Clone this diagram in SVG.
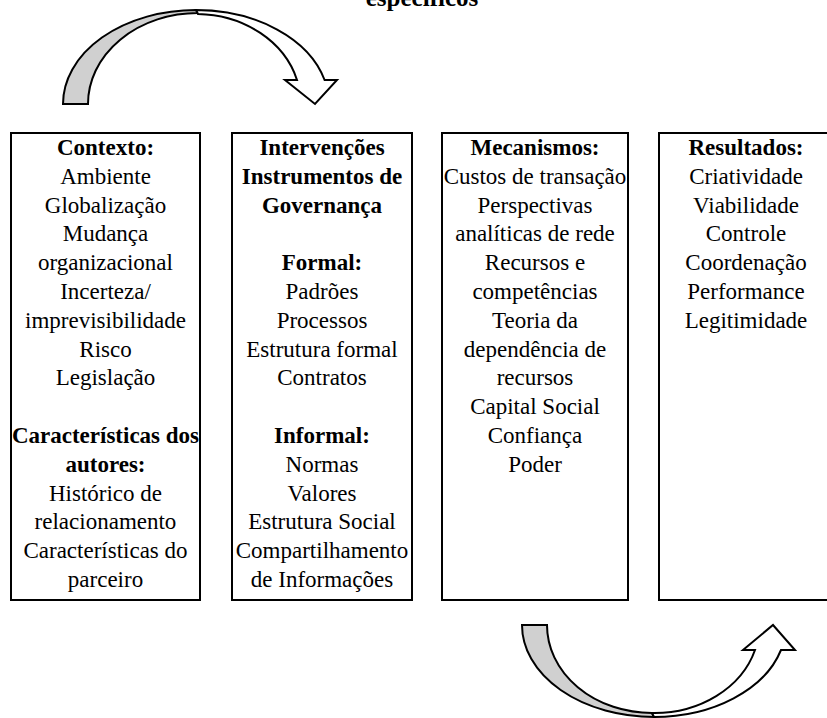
<svg xmlns="http://www.w3.org/2000/svg" width="827" height="718" viewBox="0 0 827 718">
<style>
.box{fill:#fff;stroke:#000;stroke-width:2}
text{font-family:"Liberation Serif","Times New Roman",serif;font-size:23px;fill:#000;text-anchor:middle}
.b{font-weight:bold}
.title{font-size:25px;font-weight:bold}
.gray{fill:#d0d0d0;stroke:#000;stroke-width:2;stroke-linejoin:miter}
.white{fill:#fff;stroke:#000;stroke-width:2;stroke-linejoin:miter}
</style>
<rect width="827" height="718" fill="#fff"/>
<text class="title" x="422" y="6">específicos</text>
<g id="connectors">
  <g id="arrow-top">
    <path class="gray" d="M63,104 A133,94 0 0 1 196,10 L198,13 A110,91 0 0 0 88,104 Z"/>
    <path class="white" d="M196,10 A133,94 0 0 1 324.6,80 L337,80 L315,104 L285,80 L297,80 A105,90 0 0 0 198,14 Z"/>
  </g>
  <g id="arrow-bottom">
    <path class="gray" d="M522,625 A132,92 0 0 0 654,717 L652,713 A105,88 0 0 1 547,625 Z"/>
    <path class="white" d="M654,717 A132,92 0 0 0 781,650 L795,650 L773,625 L743,650 L755,650 A105,88 0 0 1 652,713 Z"/>
  </g>
</g>
<g id="contexto">
  <rect class="box" x="11" y="133" width="189" height="467"/>
  <text x="105.5" y="155" class="b">Contexto:</text>
  <text x="105.5" y="183.8">Ambiente</text>
  <text x="105.5" y="212.6">Globalização</text>
  <text x="105.5" y="241.4">Mudança</text>
  <text x="105.5" y="270.2">organizacional</text>
  <text x="105.5" y="299">Incerteza/</text>
  <text x="105.5" y="327.8">imprevisibilidade</text>
  <text x="105.5" y="356.6">Risco</text>
  <text x="105.5" y="385.4">Legislação</text>
  <text x="105.5" y="443" class="b">Características dos</text>
  <text x="105.5" y="471.8" class="b">autores:</text>
  <text x="105.5" y="500.6">Histórico de</text>
  <text x="105.5" y="529.4">relacionamento</text>
  <text x="105.5" y="558.2">Características do</text>
  <text x="105.5" y="587">parceiro</text>
</g>
<g id="intervencoes">
  <rect class="box" x="232" y="133" width="180" height="467"/>
  <text x="322" y="155" class="b">Intervenções</text>
  <text x="322" y="183.8" class="b">Instrumentos de</text>
  <text x="322" y="212.6" class="b">Governança</text>
  <text x="322" y="270.2" class="b">Formal:</text>
  <text x="322" y="299">Padrões</text>
  <text x="322" y="327.8">Processos</text>
  <text x="322" y="356.6">Estrutura formal</text>
  <text x="322" y="385.4">Contratos</text>
  <text x="322" y="443" class="b">Informal:</text>
  <text x="322" y="471.8">Normas</text>
  <text x="322" y="500.6">Valores</text>
  <text x="322" y="529.4">Estrutura Social</text>
  <text x="322" y="558.2">Compartilhamento</text>
  <text x="322" y="587">de Informações</text>
</g>
<g id="mecanismos">
  <rect class="box" x="442" y="133" width="186" height="467"/>
  <text x="535" y="155" class="b">Mecanismos:</text>
  <text x="535" y="183.8">Custos de transação</text>
  <text x="535" y="212.6">Perspectivas</text>
  <text x="535" y="241.4">analíticas de rede</text>
  <text x="535" y="270.2">Recursos e</text>
  <text x="535" y="299">competências</text>
  <text x="535" y="327.8">Teoria da</text>
  <text x="535" y="356.6">dependência de</text>
  <text x="535" y="385.4">recursos</text>
  <text x="535" y="414.2">Capital Social</text>
  <text x="535" y="443">Confiança</text>
  <text x="535" y="471.8">Poder</text>
</g>
<g id="resultados">
  <rect class="box" x="659" y="133" width="180" height="467"/>
  <text x="746" y="155" class="b">Resultados:</text>
  <text x="746" y="183.8">Criatividade</text>
  <text x="746" y="212.6">Viabilidade</text>
  <text x="746" y="241.4">Controle</text>
  <text x="746" y="270.2">Coordenação</text>
  <text x="746" y="299">Performance</text>
  <text x="746" y="327.8">Legitimidade</text>
</g>
</svg>
